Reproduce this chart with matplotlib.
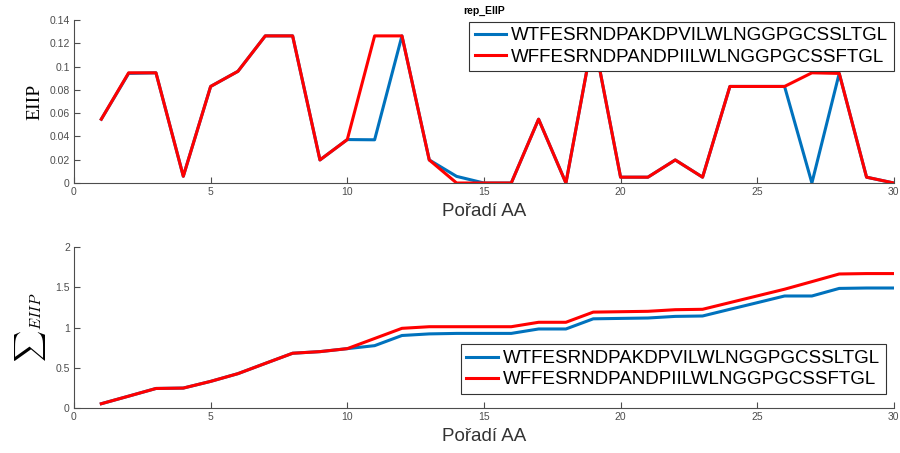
"""
EIIP profile of two peptide sequences
"""
import matplotlib
matplotlib.use('Agg')
import matplotlib.pyplot as plt

seq_a = 'WTFESRNDPAKDPVILWLNGGPGCSSLTGL'
seq_b = 'WFFESRNDPANDPIILWLNGGPGCSSFTGL'

positions = list(range(1, 31))

# EIIP per position
eiip_a = [0.0548, 0.0941, 0.0946, 0.0058, 0.0829, 0.0959, 0.1263, 0.1263, 0.0198, 0.0373,
          0.0371, 0.1263, 0.0198, 0.0057, 0.0, 0.0, 0.0548, 0.0, 0.1263, 0.005,
          0.005, 0.0198, 0.005, 0.0829, 0.0829, 0.0829, 0.0, 0.0941, 0.005, 0.0]
eiip_b = [0.0548, 0.0946, 0.0946, 0.0058, 0.0829, 0.0959, 0.1263, 0.1263, 0.0198, 0.0373,
          0.1263, 0.1263, 0.0198, 0.0, 0.0, 0.0, 0.0548, 0.0, 0.1263, 0.005,
          0.005, 0.0198, 0.005, 0.0829, 0.0829, 0.0829, 0.0946, 0.0941, 0.005, 0.0]

# running sum
cum_a = [0.055, 0.149, 0.244, 0.249, 0.332, 0.428, 0.555, 0.681, 0.701, 0.738,
         0.775, 0.901, 0.921, 0.927, 0.927, 0.927, 0.982, 0.982, 1.108, 1.113,
         1.118, 1.138, 1.143, 1.226, 1.308, 1.391, 1.391, 1.485, 1.490, 1.490]
cum_b = [0.055, 0.149, 0.244, 0.249, 0.332, 0.428, 0.555, 0.681, 0.701, 0.738,
         0.864, 0.990, 1.010, 1.010, 1.010, 1.010, 1.065, 1.065, 1.191, 1.196,
         1.201, 1.221, 1.226, 1.309, 1.392, 1.475, 1.569, 1.664, 1.669, 1.669]

top_yticks = [0, 0.02, 0.04, 0.06, 0.08, 0.1, 0.12, 0.14]
top_ylabels = ['0', '0.02', '0.04', '0.06', '0.08', '0.1', '0.12', '0.14']
bot_yticks = [0, 0.5, 1, 1.5, 2]
bot_ylabels = ['0', '0.5', '1', '1.5', '2']
xticks = [0, 5, 10, 15, 20, 25, 30]

BLUE = '#0072BD'
RED = '#FF0000'
GRAY = '#4D4D4D'

plt.rcParams['font.family'] = ['Liberation Sans', 'DejaVu Sans']

fig = plt.figure(figsize=(9, 4.53), dpi=100)
ax1 = fig.add_axes([0.0822, 0.596, 0.911, 0.360])
ax2 = fig.add_axes([0.0822, 0.099, 0.911, 0.356])


def style(ax, yticks, ylabels):
    ax.set_xlim(0, 30)
    ax.set_xticks(xticks)
    ax.set_xticklabels([str(t) for t in xticks])
    ax.set_yticks(yticks)
    ax.set_yticklabels(ylabels)
    ax.set_ylim(yticks[0], yticks[-1])
    for s in ['top', 'right']:
        ax.spines[s].set_visible(False)
    for s in ['left', 'bottom']:
        ax.spines[s].set_color(GRAY)
        ax.spines[s].set_linewidth(0.8)
    ax.tick_params(direction='in', length=4, width=0.8, color=GRAY,
                   labelsize=7.5, labelcolor=GRAY, pad=3)
    ax.set_xlabel('Pořadí AA', fontsize=13.5, color='#333333', labelpad=4)


def add_legend(ax, loc, anchor):
    leg = ax.legend(loc=loc, bbox_to_anchor=anchor, fontsize=13.5,
                    frameon=True, fancybox=False, framealpha=1, edgecolor='#333333',
                    handlelength=1.7, handletextpad=0.25, borderpad=0.3,
                    labelspacing=0.22, borderaxespad=0)
    leg.get_frame().set_linewidth(0.8)
    return leg


# top panel: EIIP per position
ax1.plot(positions, eiip_a, color=BLUE, linewidth=2.2, label=seq_a)
ax1.plot(positions, eiip_b, color=RED, linewidth=2.2, label=seq_b)
style(ax1, top_yticks, top_ylabels)
ax1.set_ylabel('EIIP', family='Liberation Serif', fontsize=14, labelpad=4)
ax1.set_title('rep_EIIP', fontsize=7.5, fontweight='bold', pad=4)
add_legend(ax1, 'upper right', (1.0, 0.99))

# bottom panel: running sum
ax2.plot(positions, cum_a, color=BLUE, linewidth=2.2, label=seq_a)
ax2.plot(positions, cum_b, color=RED, linewidth=2.2, label=seq_b)
style(ax2, bot_yticks, bot_ylabels)
ax2.set_ylabel(r'${\sum}_{EIIP}$', fontsize=15.5, math_fontfamily='cm', labelpad=5)
add_legend(ax2, 'lower right', (0.99, 0.087))

plt.savefig('out.png', dpi=100)
print("Saved: out.png")
